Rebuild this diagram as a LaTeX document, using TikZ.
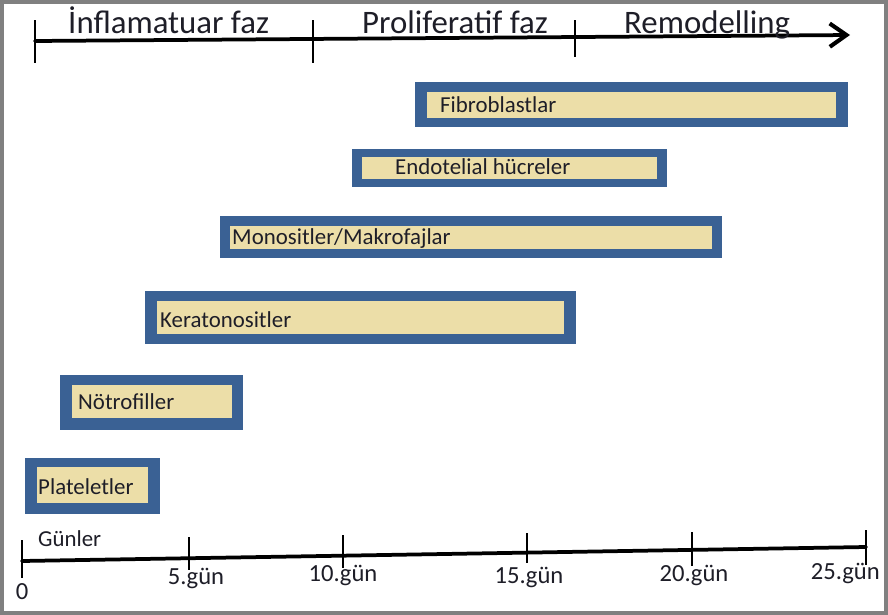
\documentclass[tikz,border=0pt]{standalone}
\usepackage{fontspec}
\setmainfont{Carlito}
\usepackage{xcolor}
\usepackage{tikz}
\usetikzlibrary{arrows.meta}
\definecolor{barblue}{RGB}{58,97,148}
\definecolor{bartan}{RGB}{236,222,168}
\definecolor{framegray}{RGB}{128,128,128}
\definecolor{inkdark}{RGB}{30,30,40}
\tikzset{
  phase/.style={anchor=base west, inner sep=0pt, text=inkdark, font=\fontsize{28}{33}\selectfont},
  cell/.style={anchor=base west, inner sep=0pt, text=inkdark, font=\fontsize{19.5}{23}\selectfont},
  day/.style={anchor=base, inner sep=0pt, text=inkdark, font=\fontsize{21}{25}\selectfont},
  outerbar/.style={fill=barblue},
  innerbar/.style={fill=bartan},
  axisline/.style={line width=3.2pt, line cap=round},
  daytick/.style={line width=1.1pt}
}

\begin{document}
\begin{tikzpicture}[x=0.03cm, y=-0.03cm]
	\useasboundingbox (0,0) rectangle (888,615);
	\fill[white] (0,0) rectangle (888,615);
	\draw[framegray, line width=4pt] (2,2) rectangle (886,613);
	%
	\coordinate (phL) at (35,41);
	\coordinate (phR) at (850,35);
	\draw[axisline, -{Straight Barb[length=5mm, width=7mm, line width=3.5pt]}] (phL) -- (phR);
	\draw[daytick] (35,20) -- (35,63);
	\draw[daytick] (313,20) -- (313,63);
	\draw[daytick] (575,20) -- (575,57);
	\node[phase] (infl) at (68,33) {İnflamatuar faz};
	\node[phase] (prol) at (362,33) {Proliferatif faz};
	\node[phase] (remo) at (624,33) {Remodelling};
	%
	\fill[outerbar] (415,82) rectangle (848,127);
	\fill[innerbar] (427,92) rectangle (836,118);
	\node[cell] (fib) at (440,112) {Fibroblastlar};
	\fill[outerbar] (352,149) rectangle (667,187);
	\fill[innerbar] (362,157) rectangle (657,179);
	\node[cell] (endo) at (395,174) {Endotelial hücreler};
	\fill[outerbar] (220,216) rectangle (722,258);
	\fill[innerbar] (230,226) rectangle (712,249);
	\node[cell] (mono) at (232,244) {Monositler/Makrofajlar};
	\fill[outerbar] (145,291) rectangle (576,344);
	\fill[innerbar] (157,301) rectangle (564,334);
	\node[cell] (kera) at (160,327) {Keratonositler};
	\fill[outerbar] (60,375) rectangle (243,430);
	\fill[innerbar] (72,385) rectangle (232,418);
	\node[cell] (notr) at (78,409) {Nötrofiller};
	\fill[outerbar] (25,458) rectangle (160,514);
	\fill[innerbar] (37,467) rectangle (148,503);
	\node[cell] (plat) at (38,494) {Plateletler};
	%
	\coordinate (dayL) at (22,561);
	\coordinate (dayR) at (866,547);
	\draw[axisline] (dayL) -- (dayR);
	\draw[daytick] (22,540) -- (22,578);
	\draw[daytick] (189,537) -- (189,570);
	\draw[daytick] (343,535) -- (343,568);
	\draw[daytick] (527,533) -- (527,563);
	\draw[daytick] (692,532) -- (692,566);
	\draw[daytick] (866,530) -- (866,565);
	\node[cell] (gunler) at (38,546) {Günler};
	\node[day] (d0) at (22,599) {0};
	\node[day] (d5) at (196,584) {5.gün};
	\node[day] (d10) at (343,581) {10.gün};
	\node[day] (d15) at (529,583) {15.gün};
	\node[day] (d20) at (694,581) {20.gün};
	\node[day, anchor=base east] (d25) at (880,579) {25.gün};
\end{tikzpicture}
\end{document}
